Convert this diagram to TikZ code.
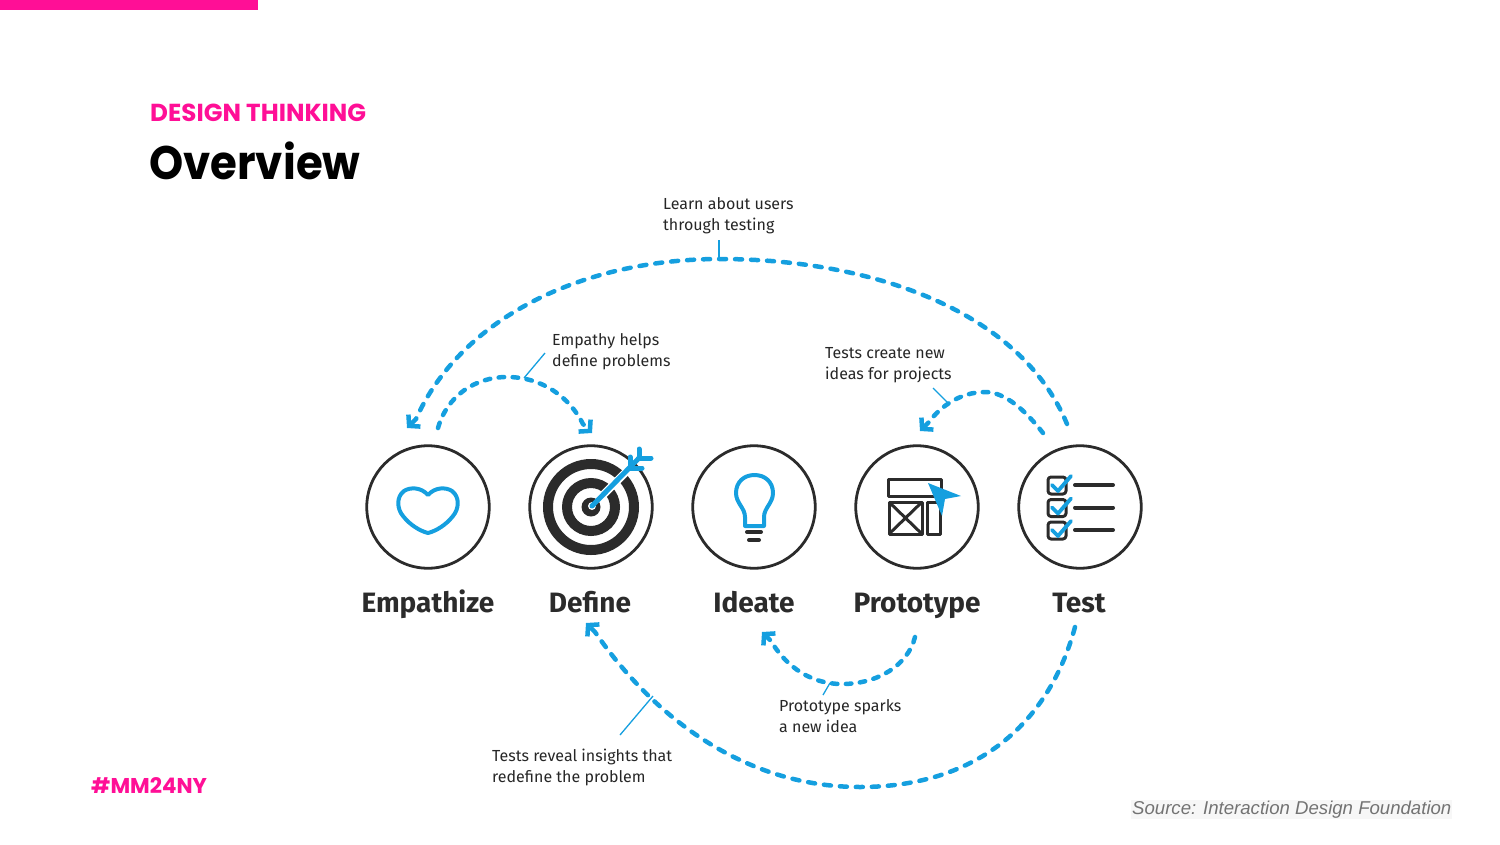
\documentclass[tikz,border=0pt]{standalone}
\usepackage{fontspec}
\setmainfont{Fira Sans}
\newfontfamily\popfont{Poppins}
\newfontfamily\arialfont{Liberation Sans}
\usetikzlibrary{arrows.meta}
\definecolor{hotpink}{HTML}{FF0F96}
\definecolor{skyb}{HTML}{159FDF}
\definecolor{inkd}{HTML}{2B2B2B}
\tikzset{
  stage/.style={circle,draw=inkd,line width=2.8pt,minimum size=122.5pt,inner sep=0pt},
  stagename/.style={anchor=base,inner sep=0pt,text=inkd,font=\fontsize{28}{30}\selectfont\bfseries},
  note/.style={anchor=north west,inner sep=0pt,align=left,text=black!85,font=\fontsize{16}{21}\selectfont},
  loopbase/.style={draw=skyb,line width=4.5pt,line cap=round,
    -{Straight Barb[length=7.5pt,width=17pt,line width=4.5pt]}},
  bigloop/.style={loopbase,dash pattern=on 7pt off 9pt},
  smallloop/.style={loopbase,dash pattern=on 5.5pt off 8.5pt},
  tick/.style={draw=skyb,line width=1.3pt},
  iconblue/.style={draw=skyb,line width=4pt,line cap=round,line join=round},
  icondark/.style={draw=inkd,line width=4pt,line cap=round,line join=round},
  thinicon/.style={draw=inkd,line width=3pt,line join=round},
}
\begin{document}
\begin{tikzpicture}[x=1pt,y=-1pt]
\useasboundingbox (0,0) rectangle (1500,844);
\fill[hotpink] (0,0) rectangle (258,10);
\node[anchor=base west,inner sep=0pt,text=hotpink,font=\popfont\fontsize{24.6}{26}\selectfont\bfseries] (kicker) at (150,121) {DESIGN THINKING};
\node[anchor=base west,inner sep=0pt,text=black,transform shape,xscale=.925,font=\popfont\fontsize{47}{50}\selectfont\bfseries] (title) at (149,179) {Overview};
\node[anchor=base west,inner sep=0pt,text=hotpink,font=\popfont\fontsize{21.4}{24}\selectfont\bfseries] (tag) at (91,793) {\#MM24NY};
\node[anchor=base west,inner sep=1pt,fill=black!3,text=black!55,font=\arialfont\fontsize{18.6}{22}\selectfont\itshape] (src) at (1131,814) {Source: Interaction Design Foundation};

% stages
\node[stage] (emp) at (428,507) {};
\node[stage] (def) at (591,507) {};
\node[stage] (ide) at (754,507) {};
\node[stage] (pro) at (917,507) {};
\node[stage] (tes) at (1080,507) {};
\node[stagename] (empL) at (428,612) {Empathize};
\node[stagename] (defL) at (590,612) {Define};
\node[stagename] (ideL) at (754,612) {Ideate};
\node[stagename] (proL) at (917,612) {Prototype};
\node[stagename] (tesL) at (1079,612) {Test};

% heart
\draw[iconblue] (428,495) .. controls (421,487) and (410,487) .. (404,491)
  .. controls (396,497) and (397,509) .. (403,516)
  .. controls (410,525) and (420,531) .. (428,533)
  .. controls (436,531) and (446,525) .. (453,516)
  .. controls (459,509) and (460,497) .. (452,491)
  .. controls (446,487) and (435,487) .. (428,495) -- cycle;

% target
\draw[draw=inkd,line width=10pt] (591,507) circle (43);
\draw[draw=inkd,line width=10pt] (591,507) circle (24);
\fill[inkd] (591,507) circle (9.5);
\fill[white] (592,506) circle (4);
\draw[draw=white,line width=8pt] (598,500) -- (630,468);
\draw[iconblue,line width=5pt] (592,506) -- (639,458);
\draw[iconblue,line width=5pt] (639,449) -- (639,458) -- (651,458);
\draw[iconblue,line width=5pt] (630,457) -- (630,468) -- (642,468);

% bulb
\draw[iconblue] (745,526) -- (764,526) -- (764,517)
  .. controls (764,508) and (773,503) .. (773,493)
  .. controls (773,482) and (765,475) .. (754.5,475)
  .. controls (744,475) and (736,482) .. (736,493)
  .. controls (736,503) and (745,508) .. (745,517) -- cycle;
\draw[icondark] (747,532) -- (761,532);
\draw[icondark] (749,540) -- (759,540);

% prototype
\draw[thinicon] (888,479) rectangle (941,496);
\draw[thinicon] (889,502) rectangle (922,534);
\draw[thinicon] (889,502) -- (922,534) (922,502) -- (889,534);
\draw[thinicon] (927,502) rectangle (940,534);
\fill[skyb] (928,483) -- (961,496) -- (945,499) -- (942,516) -- cycle;

% checklist
\foreach \dy in {0,22.5,45}{
  \draw[thinicon,rounded corners=3pt] (1048,477+\dy) rectangle (1066,494+\dy);
  \draw[iconblue,line width=3.8pt] (1052,485+\dy) -- (1058,491+\dy) -- (1071,476+\dy);
  \draw[icondark] (1075,485+\dy) -- (1113,485+\dy);
}

% notes
\node[note] (n1) at (663,197) {Learn about users\\through testing};
\node[note] (n2) at (552,333) {Empathy helps\\define problems};
\node[note] (n3) at (825,347) {Tests create new\\ideas for projects};
\node[note] (n4) at (779,699) {Prototype sparks\\a new idea};
\node[note] (n5) at (492,749) {Tests reveal insights that\\redefine the problem};

% free ends
\coordinate (a0) at (1067,424); \coordinate (a1) at (720,259); \coordinate (a3) at (416,419); \coordinate (a2) at (407,428);
\coordinate (b0) at (438,428); \coordinate (b1) at (507,377); \coordinate (b3) at (583,424); \coordinate (b2) at (592,433);
\coordinate (c0) at (1043,433); \coordinate (c1) at (985,392); \coordinate (c3) at (929,422); \coordinate (c2) at (920,431);
\coordinate (d0) at (915,637); \coordinate (d1) at (842,684); \coordinate (d3) at (771,641); \coordinate (d2) at (762,632);
\coordinate (e0) at (1075,627); \coordinate (e1) at (860,787); \coordinate (e3) at (595,632); \coordinate (e2) at (586,623);

\draw[bigloop] (a0) .. controls (1020,310) and (870,259) .. (a1) .. controls (580,259) and (460,320) .. (a3) -- (a2);
\draw[smallloop] (b0) .. controls (447,396) and (475,377) .. (b1) .. controls (543,377) and (570,398) .. (b3) -- (b2);
\draw[smallloop] (c0) .. controls (1025,410) and (1005,392) .. (c1) .. controls (960,392) and (940,407) .. (c3) -- (c2);
\draw[smallloop] (d0) .. controls (908,665) and (878,684) .. (d1) .. controls (805,684) and (782,660) .. (d3) -- (d2);
\draw[bigloop] (e0) .. controls (1050,720) and (980,787) .. (e1) .. controls (740,787) and (650,712) .. (e3) -- (e2);

% pointers
\coordinate (t1a) at (719,240); \coordinate (t1b) at (719,260);
\coordinate (t2a) at (545,353); \coordinate (t2b) at (524,378);
\coordinate (t3a) at (933,388); \coordinate (t3b) at (948,403);
\coordinate (t4a) at (830,683); \coordinate (t4b) at (823,695);
\coordinate (t5a) at (653,696); \coordinate (t5b) at (620,735);
\draw[tick] (t1a) -- (t1b);
\draw[tick] (t2a) -- (t2b);
\draw[tick] (t3a) -- (t3b);
\draw[tick] (t4a) -- (t4b);
\draw[tick] (t5a) -- (t5b);
\end{tikzpicture}
\end{document}
